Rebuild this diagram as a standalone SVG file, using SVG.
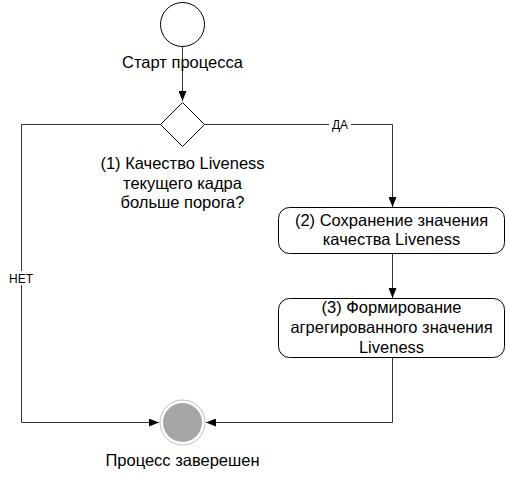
<svg xmlns="http://www.w3.org/2000/svg" width="508" height="479" viewBox="0 0 508 479">
<style>
text{font-family:"Liberation Sans",Arial,sans-serif;font-size:16.5px;fill:#000;text-anchor:middle}
.lbl{font-size:12px}
.edge{fill:none;stroke:#333;stroke-width:1}
.box{fill:#fff;stroke:#000;stroke-width:1}
</style>
<defs>
<marker id="arr" viewBox="0 0 10 8" refX="10" refY="4" markerWidth="10" markerHeight="8" markerUnits="userSpaceOnUse" orient="auto">
<path d="M0,0 L10,4 L0,8 Z" fill="#000"/>
</marker>
</defs>
<rect width="508" height="479" fill="#fff"/>
<g id="connectors">
<path class="edge" d="M182.5,46.5 V101" marker-end="url(#arr)"/>
<path class="edge" d="M204.5,124.5 H392.5 V207" marker-end="url(#arr)"/>
<path class="edge" d="M160.5,124.5 H21.5 V422.5 H159" marker-end="url(#arr)"/>
<path class="edge" d="M392.5,253.5 V298" marker-end="url(#arr)"/>
<path class="edge" d="M392.5,357.5 V422.5 H206" marker-end="url(#arr)"/>
<rect x="329" y="117" width="22" height="14" fill="#fff"/>
<text class="lbl" x="340" y="129">ДА</text>
<rect x="7" y="271" width="28" height="14" fill="#fff"/>
<text class="lbl" x="21" y="283">НЕТ</text>
</g>
<g id="start">
<circle cx="182.5" cy="24.5" r="22" fill="#fff" stroke="#000"/>
<text x="182.5" y="68">Старт процесса</text>
</g>
<g id="decision">
<polygon points="182.5,102.5 204.5,124.5 182.5,146.5 160.5,124.5" fill="#fff" stroke="#000"/>
<text x="182.5" y="169">(1) Качество Liveness</text>
<text x="182.5" y="189">текущего кадра</text>
<text x="182.5" y="208">больше порога?</text>
</g>
<g id="save">
<rect class="box" x="278.5" y="207.5" width="226" height="46" rx="11"/>
<text x="391.5" y="226">(2) Сохранение значения</text>
<text x="391.5" y="245">качества Liveness</text>
</g>
<g id="aggregate">
<rect class="box" x="278.5" y="298.5" width="226" height="59" rx="11"/>
<text x="391.5" y="313">(3) Формирование</text>
<text x="391.5" y="333">агрегированного значения</text>
<text x="391.5" y="353">Liveness</text>
</g>
<g id="end">
<circle cx="182.5" cy="422.5" r="22.5" fill="#fff" stroke="#c0c0c0"/>
<circle cx="182.5" cy="422.5" r="19.5" fill="#a6a6a6"/>
<text x="182.5" y="466">Процесс заверешен</text>
</g>
</svg>
